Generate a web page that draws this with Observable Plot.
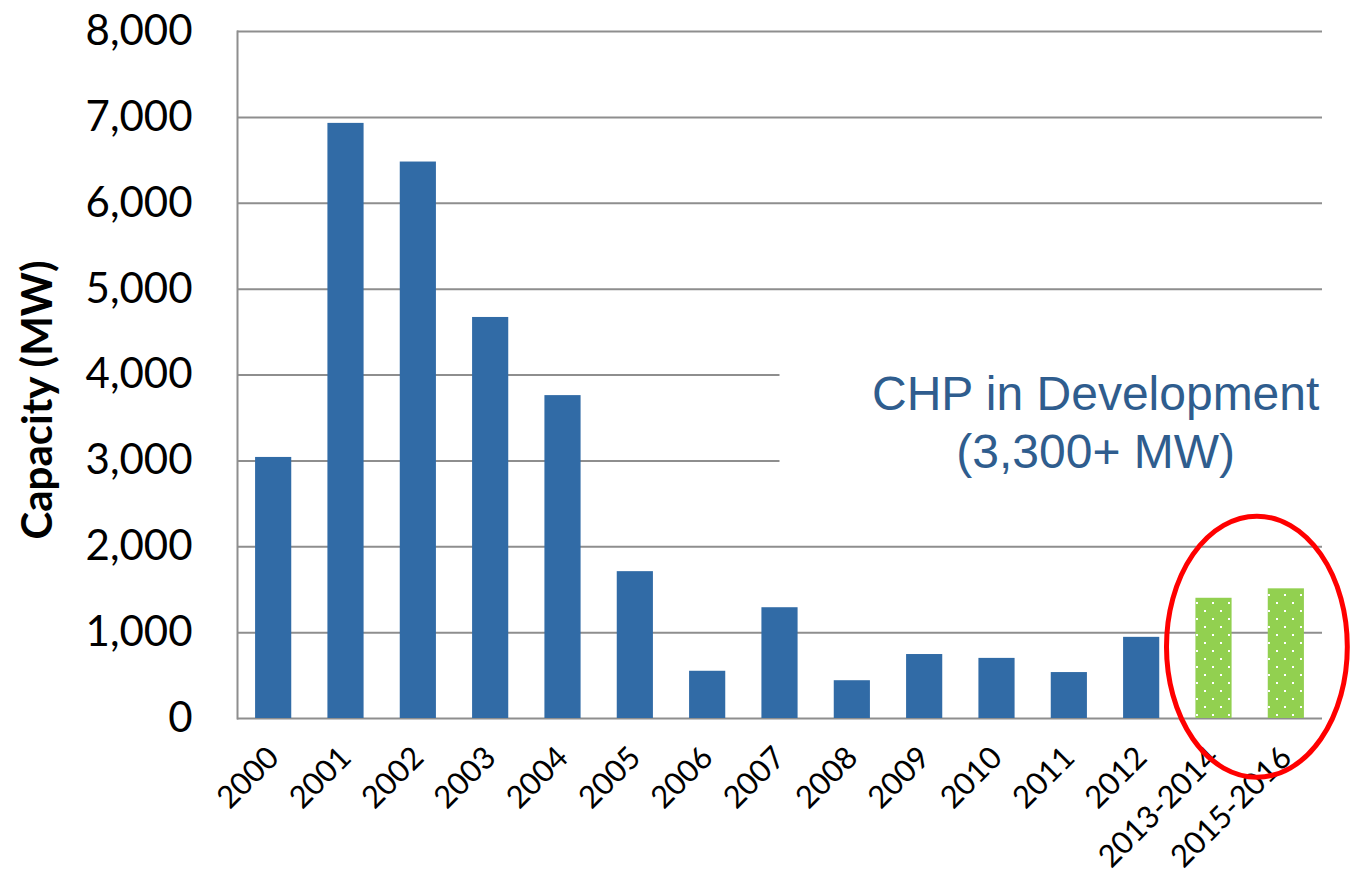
<!DOCTYPE html>
<html><head><meta charset="utf-8">
<script src="https://cdn.jsdelivr.net/npm/d3@7"></script>
<script src="https://cdn.jsdelivr.net/npm/@observablehq/plot@0.6"></script>
<style>body{margin:0;background:#fff}</style>
</head><body><div id="chart"></div>
<script>
const categories = ["2000","2001","2002","2003","2004","2005","2006","2007","2008","2009","2010","2011","2012","2013-2014","2015-2016"];
const capacity = [3040, 6930, 6480, 4670, 3760, 1710, 550, 1290, 440, 745, 700, 535, 945, 1400, 1510];
const status = ["Installed","Installed","Installed","Installed","Installed","Installed","Installed","Installed","Installed","Installed","Installed","Installed","Installed","In development","In development"];
const yTicks = [0, 1000, 2000, 3000, 4000, 5000, 6000, 7000, 8000];
const annotationLines = ["CHP in Development", "(3,300+ MW)"];
const yTitle = "Capacity (MW)";

const data = categories.map((c, i) => ({category: c, capacity: capacity[i], status: status[i]}));
const installed = data.filter(d => d.status === "Installed");
const development = data.filter(d => d.status === "In development");

const BLUE = "#316BA6", GREEN = "#92D050", GRID = "#8E8E8E";
const svgNS = "http://www.w3.org/2000/svg";

// pattern definition for the dotted green bars
function patternDefs() {
  return () => {
    const g = document.createElementNS(svgNS, "g");
    const defs = document.createElementNS(svgNS, "defs");
    const p = document.createElementNS(svgNS, "pattern");
    p.setAttribute("id", "dots");
    p.setAttribute("patternUnits", "userSpaceOnUse");
    p.setAttribute("width", 16); p.setAttribute("height", 16);
    const bg = document.createElementNS(svgNS, "rect");
    bg.setAttribute("width", 16); bg.setAttribute("height", 16); bg.setAttribute("fill", GREEN);
    p.appendChild(bg);
    for (const [dx, dy] of [[4, 2], [12, 10]]) {
      const r = document.createElementNS(svgNS, "rect");
      r.setAttribute("x", dx); r.setAttribute("y", dy);
      r.setAttribute("width", 2); r.setAttribute("height", 2); r.setAttribute("fill", "#fff");
      p.appendChild(r);
    }
    defs.appendChild(p); g.appendChild(defs);
    return g;
  };
}

// white box behind the annotation text (hides gridlines)
function annotationBox() {
  return (index, scales, values, dims) => {
    const x = scales.x, y = scales.y;
    const r = document.createElementNS(svgNS, "rect");
    const x0 = x(categories[7]) + x.bandwidth() / 2;
    r.setAttribute("x", x0);
    r.setAttribute("y", y(4500));
    r.setAttribute("width", dims.width - dims.marginRight - x0 + 1);
    r.setAttribute("height", y(2500) - y(4500));
    r.setAttribute("fill", "#fff");
    return r;
  };
}

// red ellipse around the development bars
function ellipseMark() {
  return (index, scales, values, dims) => {
    const x = scales.x, y = scales.y, bw = x.bandwidth(), step = x.step();
    const c1 = x(categories[13]) + bw / 2, c2 = x(categories[14]) + bw / 2;
    const e = document.createElementNS(svgNS, "ellipse");
    e.setAttribute("cx", (c1 + c2) / 2 + 0.1 * step);
    e.setAttribute("cy", y(830));
    e.setAttribute("rx", 1.25 * step);
    e.setAttribute("ry", y(0) - y(1520));
    e.setAttribute("fill", "none");
    e.setAttribute("stroke", "#FF0000");
    e.setAttribute("stroke-width", 5);
    return e;
  };
}

const plot = Plot.plot({
  width: 1358,
  height: 881,
  marginLeft: 237,
  marginRight: 36,
  marginTop: 31,
  marginBottom: 163,
  style: {fontFamily: "Lato", background: "#fff", color: "#000"},
  x: {domain: categories, paddingInner: 0.5, paddingOuter: 0.25, round: false, label: null},
  y: {domain: [0, 8000], label: null},
  marks: [
    patternDefs(),
    Plot.gridY(yTicks, {stroke: GRID, strokeOpacity: 1, strokeWidth: 2}),
    Plot.frame({anchor: "left", stroke: GRID, strokeWidth: 2}),
    annotationBox(),
    Plot.barY(installed, {x: "category", y: "capacity", fill: BLUE}),
    Plot.barY(development, {x: "category", y: "capacity", fill: "url(#dots)"}),
    Plot.axisY(yTicks, {tickSize: 0, tickPadding: 45, fontSize: 42, tickFormat: d3.format(","), label: null}),
    Plot.axisX({tickSize: 0, tickPadding: 34, tickRotate: -45, fontSize: 31, label: null}),
    Plot.text([yTitle], {frameAnchor: "left", textAnchor: "middle", rotate: -90, dx: -199, dy: 25, fontSize: 42, fontWeight: "bold"}),
    Plot.text([annotationLines.join("\n")], {x: () => categories[12], y: () => 3470, dx: -46, lineHeight: 1.2, fontSize: 48, fill: "#2F5D8E", fontFamily: "Liberation Sans", textAnchor: "middle", lineAnchor: "middle"}),
    ellipseMark()
  ]
});
document.getElementById("chart").appendChild(plot);
</script>
</body></html>
